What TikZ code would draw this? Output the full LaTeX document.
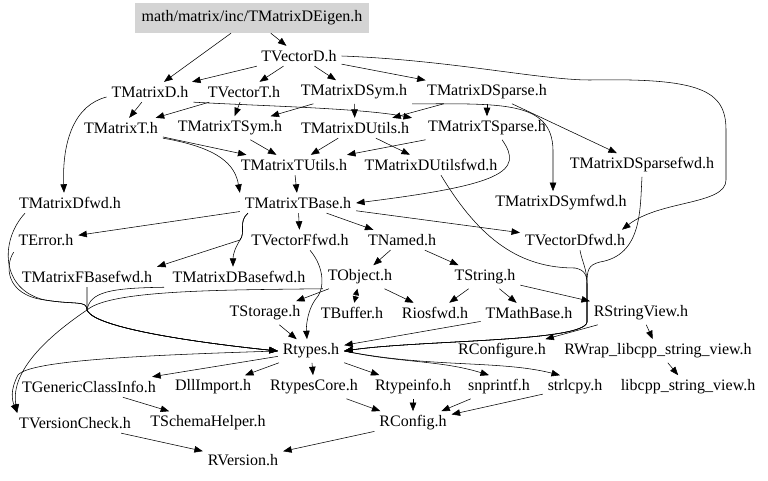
\documentclass[tikz,border=0pt]{standalone}
\usepackage{fontspec}
\setmainfont{Liberation Serif}
\usepackage{tkz-graph}
\usetikzlibrary{arrows.meta}

\begin{document}
\begin{tikzpicture}[x=1pt,y=-1pt]
    \useasboundingbox (0,0) rectangle (768,481);
    \GraphInit[vstyle=Normal]
    \tikzset{VertexStyle/.style={inner xsep=5pt, inner ysep=4.5pt, font=\fontsize{16}{18}\selectfont},
             EdgeStyle/.style={-{Triangle[length=8.5pt,width=6.5pt]}, line width=0.55pt},
             twoway/.style={{Triangle[length=6.5pt,width=6pt]}-{Triangle[length=6.5pt,width=6pt]}}}
    \node[VertexStyle, fill=black!17, inner xsep=7pt, inner ysep=2pt, minimum height=30pt] (Eigen) at (252,18) {math/matrix/inc/TMatrixDEigen.h};
    \Vertex[x=299,y=56,L=TVectorD.h]{TVectorD}
    \Vertex[x=150,y=92,L=TMatrixD.h]{TMatrixD}
    \Vertex[x=244,y=92,L=TVectorT.h]{TVectorT}
    \Vertex[x=354,y=92,L=TMatrixDSym.h]{TMatrixDSym}
    \Vertex[x=487,y=92,L=TMatrixDSparse.h]{TMatrixDSparse}
    \Vertex[x=121,y=128,L=TMatrixT.h]{TMatrixT}
    \Vertex[x=230,y=128,L=TMatrixTSym.h]{TMatrixTSym}
    \Vertex[x=355,y=128,L=TMatrixDUtils.h]{TMatrixDUtils}
    \Vertex[x=487,y=128,L=TMatrixTSparse.h]{TMatrixTSparse}
    \Vertex[x=294,y=165,L=TMatrixTUtils.h]{TMatrixTUtils}
    \Vertex[x=431,y=165,L=TMatrixDUtilsfwd.h]{TMatrixDUtilsfwd}
    \Vertex[x=642,y=165,L=TMatrixDSparsefwd.h]{TMatrixDSparsefwd}
    \Vertex[x=70,y=203,L=TMatrixDfwd.h]{TMatrixDfwd}
    \Vertex[x=298,y=203,L=TMatrixTBase.h]{TMatrixTBase}
    \Vertex[x=561,y=203,L=TMatrixDSymfwd.h]{TMatrixDSymfwd}
    \Vertex[x=46,y=240,L=TError.h]{TError}
    \Vertex[x=300,y=240,L=TVectorFfwd.h]{TVectorFfwd}
    \Vertex[x=402,y=240,L=TNamed.h]{TNamed}
    \Vertex[x=575,y=240,L=TVectorDfwd.h]{TVectorDfwd}
    \Vertex[x=87,y=277,L=TMatrixFBasefwd.h]{TMatrixFBasefwd}
    \Vertex[x=239,y=277,L=TMatrixDBasefwd.h]{TMatrixDBasefwd}
    \Vertex[x=360,y=277,L=TObject.h]{TObject}
    \Vertex[x=485,y=277,L=TString.h]{TString}
    \Vertex[x=265,y=313,L=TStorage.h]{TStorage}
    \Vertex[x=352,y=313,L=TBuffer.h]{TBuffer}
    \Vertex[x=435,y=313,L=Riosfwd.h]{Riosfwd}
    \Vertex[x=529,y=313,L=TMathBase.h]{TMathBase}
    \Vertex[x=641,y=313,L=RStringView.h]{RStringView}
    \Vertex[x=311,y=351,L=Rtypes.h]{Rtypes}
    \Vertex[x=502,y=351,L=RConfigure.h]{RConfigure}
    \Vertex[x=658,y=351,L=RWrap\_libcpp\_string\_view.h]{RWrap}
    \Vertex[x=89,y=387,L=TGenericClassInfo.h]{TGenericClassInfo}
    \Vertex[x=213,y=387,L=DllImport.h]{DllImport}
    \Vertex[x=314,y=387,L=RtypesCore.h]{RtypesCore}
    \Vertex[x=413,y=387,L=Rtypeinfo.h]{Rtypeinfo}
    \Vertex[x=499,y=387,L=snprintf.h]{snprintf}
    \Vertex[x=575,y=387,L=strlcpy.h]{strlcpy}
    \Vertex[x=688,y=387,L=libcpp\_string\_view.h]{libcpp}
    \Vertex[x=75,y=423,L=TVersionCheck.h]{TVersionCheck}
    \Vertex[x=208,y=423,L=TSchemaHelper.h]{TSchemaHelper}
    \Vertex[x=413,y=423,L=RConfig.h]{RConfig}
    \Vertex[x=243,y=460,L=RVersion.h]{RVersion}
    \coordinate (fork) at (240,240);
    \coordinate (jnL) at (87,310);
    \coordinate (jnR) at (587,322);
    % straight includes
    \Edge(Eigen)(TMatrixD)
    \Edge(Eigen)(TVectorD)
    \Edge(TVectorD)(TMatrixD)
    \Edge(TVectorD)(TVectorT)
    \Edge(TVectorD)(TMatrixDSym)
    \Edge(TVectorD)(TMatrixDSparse)
    \Edge(TMatrixD)(TMatrixT)
    \Edge(TVectorT)(TMatrixT)
    \Edge(TVectorT)(TMatrixTSym)
    \Edge(TMatrixDSym)(TMatrixTSym)
    \Edge(TMatrixDSym)(TMatrixDUtils)
    \Edge(TMatrixDSparse)(TMatrixTSparse)
    \Edge(TMatrixDSparse)(TMatrixDUtils)
    \Edge(TMatrixDSparse)(TMatrixDSparsefwd)
    \Edge(TMatrixT)(TMatrixTUtils)
    \Edge(TMatrixTSym)(TMatrixTUtils)
    \Edge(TMatrixDUtils)(TMatrixTUtils)
    \Edge(TMatrixDUtils)(TMatrixDUtilsfwd)
    \Edge(TMatrixTSparse)(TMatrixTUtils)
    \Edge(TMatrixTUtils)(TMatrixTBase)
    \Edge(TMatrixTBase)(TError)
    \Edge(TMatrixTBase)(TVectorFfwd)
    \Edge(TMatrixTBase)(TNamed)
    \Edge(TMatrixTBase)(TVectorDfwd)
    \Edge(TNamed)(TObject)
    \Edge(TNamed)(TString)
    \Edge(TObject)(Riosfwd)
    \Edge(TObject)(TStorage)
    \Edge(TString)(Riosfwd)
    \Edge(TString)(TMathBase)
    \Edge(TString)(RStringView)
    \Edge(TStorage)(Rtypes)
    \Edge(TMathBase)(Rtypes)
    \Edge(RStringView)(RConfigure)
    \Edge(RStringView)(RWrap)
    \Edge(RWrap)(libcpp)
    \Edge(Rtypes)(TGenericClassInfo)
    \Edge(Rtypes)(DllImport)
    \Edge(Rtypes)(RtypesCore)
    \Edge(Rtypes)(Rtypeinfo)
    \Edge(TGenericClassInfo)(TSchemaHelper)
    \Edge(RtypesCore)(RConfig)
    \Edge(Rtypeinfo)(RConfig)
    \Edge(snprintf)(RConfig)
    \Edge(strlcpy)(RConfig)
    \Edge(TVersionCheck)(RVersion)
    \Edge(RConfig)(RVersion)
    \draw[EdgeStyle,twoway] (TObject) -- (TBuffer);
    % routed includes
    \draw[EdgeStyle] ([yshift=-5pt]TMatrixD.west) .. controls (75,105) and (62,140) .. ([xshift=-6pt]TMatrixDfwd.north);
    \draw[EdgeStyle] (TMatrixD.south east) .. controls (260,106) and (360,108) .. ([xshift=-2pt]TMatrixDUtils.north east);
    \draw[EdgeStyle] (TMatrixDSym.south east) .. controls (500,104) and (552,100) .. (553,150) -- ([xshift=-8pt]TMatrixDSymfwd.north);
    \draw[EdgeStyle] (TMatrixT.south east) .. controls (220,148) and (235,165) .. (TMatrixTBase.north west);
    \draw[EdgeStyle] ([xshift=15pt]TMatrixTSparse.south) .. controls (525,172) and (500,185) .. (TMatrixTBase.east);
    \draw[EdgeStyle] ([xshift=8pt]TMatrixTBase.south west) .. controls (238,222) and (246,232) .. (fork) -- (TMatrixFBasefwd.north east);
    \draw[EdgeStyle] ([xshift=8pt]TMatrixTBase.south west) .. controls (238,222) and (246,232) .. (fork) .. controls (235,248) and (233,255) .. ([xshift=-6pt]TMatrixDBasefwd.north);
    \draw[EdgeStyle] (TVectorD.east) .. controls (450,60) and (540,80) .. (590,80) .. controls (700,78) and (726,90) .. (726,130) -- (726,180) .. controls (726,205) and (660,200) .. ([xshift=-8pt]TVectorDfwd.north east);
    \draw[EdgeStyle] (TMatrixDSparsefwd.south) .. controls (640,210) and (642,255) .. (600,262) .. controls (588,265) and (587,270) .. (587,285) -- (jnR) .. controls (585,342) and (420,340) .. (Rtypes.east);
    \draw[EdgeStyle] ([xshift=5pt]TVectorDfwd.south) .. controls (582,262) and (587,268) .. (587,285) -- (jnR) .. controls (585,342) and (420,340) .. (Rtypes.east);
    \draw[EdgeStyle] ([xshift=10pt]TMatrixDUtilsfwd.south) .. controls (480,240) and (520,268) .. (575,268) .. controls (585,270) and (587,275) .. (587,285) -- (jnR) .. controls (585,342) and (420,340) .. (Rtypes.east);
    \draw[EdgeStyle] ([xshift=-45pt]TMatrixDfwd.south) .. controls (0,240) and (0,290) .. (45,300) .. controls (75,305) and (87,300) .. (jnL) .. controls (95,330) and (220,345) .. (Rtypes.west);
    \draw[EdgeStyle] ([yshift=-2pt]TError.south west) .. controls (5,265) and (5,295) .. (45,300) .. controls (75,305) and (87,300) .. (jnL) .. controls (95,330) and (220,345) .. (Rtypes.west);
    \draw[EdgeStyle] (TMatrixFBasefwd.south) -- (jnL) .. controls (95,330) and (220,345) .. (Rtypes.west);
    \draw[EdgeStyle] ([xshift=-75pt]TMatrixDBasefwd.south) .. controls (110,288) and (90,292) .. (jnL) .. controls (95,330) and (220,345) .. (Rtypes.west);
    \draw[EdgeStyle] (TObject.south west) .. controls (220,290) and (110,290) .. (jnL) .. controls (50,335) and (10,370) .. ([xshift=3pt]TVersionCheck.north west);
    \draw[EdgeStyle] ([xshift=10pt]TVectorFfwd.south) .. controls (325,268) and (325,290) .. (315,300) .. controls (308,310) and (306,325) .. ([xshift=-4pt]Rtypes.north);
    \draw[EdgeStyle] (Rtypes.west) .. controls (150,355) and (30,360) .. (18,375) .. controls (10,390) and (12,400) .. ([xshift=3pt]TVersionCheck.north west);
    \draw[EdgeStyle] (Rtypes.east) .. controls (400,363) and (440,360) .. ([xshift=-10pt]snprintf.north);
    \draw[EdgeStyle] (Rtypes.east) .. controls (430,368) and (500,360) .. ([xshift=-15pt]strlcpy.north);
\end{tikzpicture}
\end{document}
